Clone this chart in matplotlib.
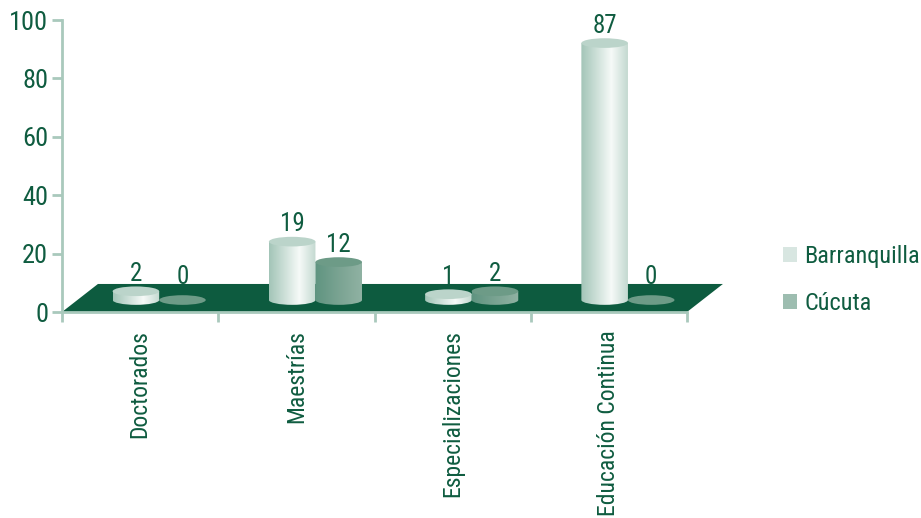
import numpy as np
from matplotlib import pyplot as plt
from matplotlib.colors import LinearSegmentedColormap
from matplotlib.patches import Ellipse, Patch, PathPatch, Polygon
from matplotlib.path import Path

categories = ["Doctorados", "Maestrías", "Especializaciones", "Educación Continua"]
barranquilla = [2, 19, 1, 87]
cucuta = [0, 12, 2, 0]
y_ticks = [0, 20, 40, 60, 80, 100]

TEXT = "#0f5c40"
AXIS = "#a9c9bc"
FLOOR = "#0d5b3f"

plt.rcParams["font.family"] = ["Roboto Condensed", "Archivo Narrow", "PT Sans Narrow", "Liberation Sans"]

W, H = 921, 518
fig = plt.figure(figsize=(W / 100, H / 100), dpi=100)
ax = fig.add_axes([62 / W, 1 - 312 / H, 625 / W, 292 / H])
ax.set_xlim(0, 4)
ax.set_ylim(0, 100)

bar_w = 0.298
base = 4.1      # bars stand this far up the floor
shift = 0.122   # and this far right of the tick centre
ell_h = 3.3

light_cmap = LinearSegmentedColormap.from_list(
    "light", [(0, "#a3c5b8"), (0.2, "#bcd5cb"), (0.65, "#f6faf8"), (1, "#c3d9d0")])
dark_cmap = LinearSegmentedColormap.from_list(
    "dark", [(0, "#5f9480"), (0.5, "#7aa392"), (1, "#90b2a3")])
grad = np.linspace(0, 1, 128).reshape(1, -1)


def cylinder(xc, value, cmap, top_color):
    x0 = xc - bar_w / 2
    x1 = xc + bar_w / 2
    top = base
    if value > 0:
        top = base + 1 + value
        k = 0.5523
        rx = bar_w / 2
        ry = ell_h / 2
        verts = [(x0, top), (x0, base),
                 (x0, base - k * ry), (xc - k * rx, base - ry), (xc, base - ry),
                 (xc + k * rx, base - ry), (x1, base - k * ry), (x1, base),
                 (x1, top), (x0, top)]
        codes = [Path.MOVETO, Path.LINETO,
                 Path.CURVE4, Path.CURVE4, Path.CURVE4,
                 Path.CURVE4, Path.CURVE4, Path.CURVE4,
                 Path.LINETO, Path.CLOSEPOLY]
        clip = PathPatch(Path(verts, codes), fc="none", ec="none", zorder=3)
        ax.add_patch(clip)
        im = ax.imshow(grad, extent=[x0, x1, base - ry, top], aspect="auto",
                       cmap=cmap, vmin=0, vmax=1, zorder=3)
        im.set_clip_path(clip)
    ax.add_patch(Ellipse((xc, top), bar_w, ell_h, fc=top_color, ec="none", zorder=4))
    # zero labels sit a bit higher over their flat discs
    label_y = top + 3.5 if value > 0 else top + 5.5
    ax.text(xc, label_y, str(value), ha="center", va="baseline", color=TEXT, fontsize=18)


# floor
depth = 9.6
skew = 0.23
ax.add_patch(Polygon([(0, 0), (4, 0), (4 + skew, depth), (skew, depth)],
                     closed=True, fc=FLOOR, ec="none", zorder=1, clip_on=False))

for i in range(len(categories)):
    centre = i + 0.5 + shift
    cylinder(centre - bar_w / 2, barranquilla[i], light_cmap, "#bbd4ca")
    cylinder(centre + bar_w / 2, cucuta[i], dark_cmap, "#6d9b87")

ax.set_xlim(0, 4)
ax.set_ylim(0, 100)

for side in ["top", "right"]:
    ax.spines[side].set_visible(False)
for side in ["left", "bottom"]:
    ax.spines[side].set_color(AXIS)
    ax.spines[side].set_linewidth(2)

ax.set_yticks(y_ticks)
ax.set_yticklabels([str(v) for v in y_ticks], color=TEXT, fontsize=19)
ax.tick_params(axis="y", length=7, width=2, color=AXIS, pad=3)

ax.set_xticks(range(5))
ax.set_xticklabels([])
ax.set_xticks(np.arange(4) + 0.5, minor=True)
ax.set_xticklabels(categories, minor=True, rotation=90, color=TEXT, fontsize=17,
                   ha="center", va="top")
ax.tick_params(axis="x", which="major", length=7, width=2, color=AXIS)
ax.tick_params(axis="x", which="minor", length=0, pad=13)

handles = [Patch(fc="#d8e6e1", ec="none"), Patch(fc="#9dbdb0", ec="none")]
fig.legend(handles, ["Barranquilla", "Cúcuta"], loc="upper left",
           bbox_to_anchor=(783 / W, 1 - 245 / H), frameon=False, fontsize=17.5,
           labelcolor=TEXT, handlelength=0.58, handleheight=0.58, handletextpad=0.29,
           labelspacing=1.0, borderpad=0, borderaxespad=0)

fig.savefig("out.png", dpi=100)
